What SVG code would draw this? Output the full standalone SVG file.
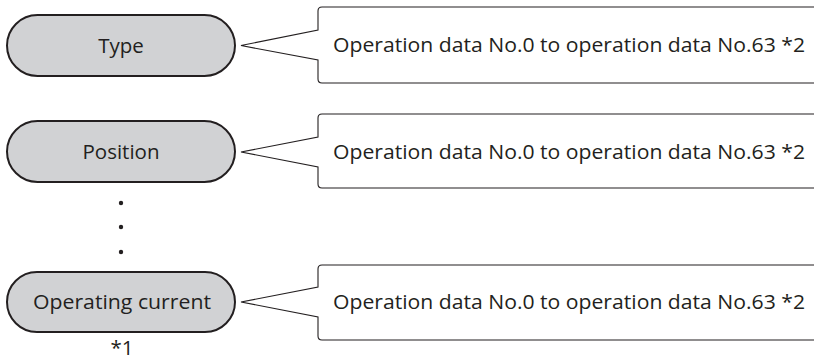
<svg xmlns="http://www.w3.org/2000/svg" width="814" height="362" viewBox="0 0 814 362">
<style>
.pill{fill:#d1d2d4;stroke:#231f20;stroke-width:2}
.call{fill:#fff;stroke:#231f20;stroke-width:1.1;stroke-linejoin:miter}
.t{font-family:"Open Sans","Noto Sans",sans-serif;font-size:20.5px;fill:#231f20}
.dot{fill:#231f20}
</style>
<rect width="814" height="362" fill="#fff"/>
<g id="node-type">
<rect class="pill" x="7" y="15" width="228" height="61" rx="30.5"/>
<text class="t" x="121" y="53" text-anchor="middle">Type</text>
</g>
<g id="node-position">
<rect class="pill" x="7" y="121" width="228" height="61" rx="30.5"/>
<text class="t" x="121" y="159" text-anchor="middle">Position</text>
</g>
<g id="node-current">
<rect class="pill" x="7" y="272" width="228" height="60" rx="30"/>
<text class="t" x="122" y="309" text-anchor="middle" textLength="178" lengthAdjust="spacingAndGlyphs">Operating current</text>
</g>
<g id="dots">
<circle class="dot" cx="121" cy="203" r="2.2"/>
<circle class="dot" cx="121" cy="227" r="2.2"/>
<circle class="dot" cx="121" cy="252" r="2.2"/>
</g>
<g id="note1">
<text class="t" x="122" y="355" text-anchor="middle" font-size="19">*1</text>
</g>
<g id="connectors">
<g id="callout-1">
<path class="call" d="M830,7 H322 Q318,7 318,11 V30 L241,45.5 L318,60 V79 Q318,83 322,83 H830"/>
<text class="t" x="333" y="52" textLength="472" lengthAdjust="spacingAndGlyphs">Operation data No.0 to operation data No.63 *2</text>
</g>
<g id="callout-2">
<path class="call" d="M830,114 H322 Q318,114 318,118 V137 L241,152 L318,167 V184 Q318,188 322,188 H830"/>
<text class="t" x="333" y="159" textLength="472" lengthAdjust="spacingAndGlyphs">Operation data No.0 to operation data No.63 *2</text>
</g>
<g id="callout-3">
<path class="call" d="M830,265 H322 Q318,265 318,269 V287 L241,302 L318,317 V336 Q318,340 322,340 H830"/>
<text class="t" x="333" y="309" textLength="472" lengthAdjust="spacingAndGlyphs">Operation data No.0 to operation data No.63 *2</text>
</g>
</g>
</svg>
